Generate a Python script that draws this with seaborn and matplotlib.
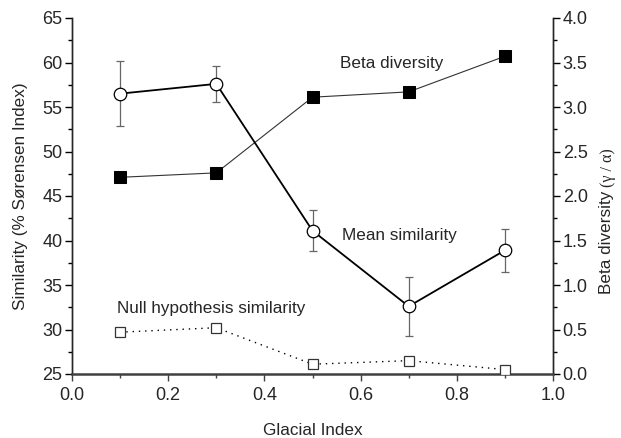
import matplotlib
matplotlib.use("Agg")
import matplotlib.pyplot as plt
import seaborn as sns
import pandas as pd
from matplotlib.ticker import MultipleLocator

glacial_index = [0.1, 0.3, 0.5, 0.7, 0.9]
mean_similarity = [56.5, 57.6, 41.1, 32.6, 38.9]
mean_similarity_err = [3.65, 2.0, 2.3, 3.35, 2.4]
null_similarity = [29.7, 30.2, 26.1, 26.5, 25.5]
beta_diversity = [2.21, 2.26, 3.11, 3.17, 3.57]

sns.set_style("ticks")
plt.rcParams['font.family'] = ['Liberation Sans', 'DejaVu Sans']

df = pd.DataFrame({"gi": glacial_index, "mean": mean_similarity,
                   "err": mean_similarity_err, "null": null_similarity,
                   "beta": beta_diversity})

fig = plt.figure(figsize=(6.21, 4.38), dpi=100)
ax = fig.add_axes([72/621, 1-374/438, (553-72)/621, (374-18)/438])
ax2 = ax.twinx()

# Beta diversity (right axis)
sns.lineplot(data=df, x="gi", y="beta", ax=ax2, color="#333333", lw=0.8,
             marker="s", markersize=8, markerfacecolor="black",
             markeredgecolor="black", zorder=2)

# Error bars
ax.errorbar(df["gi"], df["mean"], yerr=df["err"], fmt="none",
            ecolor="#666666", elinewidth=0.9, capsize=3, capthick=0.9, zorder=3)
# Mean similarity
sns.lineplot(data=df, x="gi", y="mean", ax=ax, color="black", lw=1.3,
             marker="o", markersize=9, markerfacecolor="white",
             markeredgecolor="black", markeredgewidth=0.9, zorder=4)
# Null hypothesis similarity
sns.lineplot(data=df, x="gi", y="null", ax=ax, color="black", lw=1.0,
             linestyle=(0, (1, 3.5)),
             marker="s", markersize=7, markerfacecolor="white",
             markeredgecolor="#333333", markeredgewidth=0.9, zorder=4)

ax.set_zorder(ax2.get_zorder() + 1)
ax.patch.set_visible(False)

ax.set_xlim(0, 1.0)
ax.set_ylim(25, 65)
ax2.set_ylim(0, 4.0)
ax.xaxis.set_major_locator(MultipleLocator(0.2))
ax.xaxis.set_minor_locator(MultipleLocator(0.1))
ax.yaxis.set_major_locator(MultipleLocator(5))
ax.yaxis.set_minor_locator(MultipleLocator(2.5))
ax2.yaxis.set_major_locator(MultipleLocator(0.5))
ax2.yaxis.set_minor_locator(MultipleLocator(0.25))
ax.xaxis.set_major_formatter(matplotlib.ticker.FormatStrFormatter("%.1f"))
ax2.yaxis.set_major_formatter(matplotlib.ticker.FormatStrFormatter("%.1f"))

for a in (ax, ax2):
    a.spines["top"].set_visible(False)
    a.tick_params(which="major", length=5, width=1, labelsize=13, color="black", pad=2)
    a.tick_params(which="minor", length=3, width=1, color="black")
    a.set_xlabel("")
    a.set_ylabel("")
for s in ("left", "right"):
    ax.spines[s].set_linewidth(1.0)
    ax2.spines[s].set_linewidth(1.0)
ax.spines["bottom"].set_linewidth(1.8)
ax.spines["bottom"].set_color("#404040")
ax2.spines["bottom"].set_visible(False)
ax.tick_params(axis="x", which="both", color="#404040", pad=4)

ax.set_xlabel("Glacial Index", fontsize=12.3, labelpad=14)
ax.set_ylabel("Similarity (% Sørensen Index)", fontsize=12.3, labelpad=10)

ax.text(0.557, 59.9, "Beta diversity", fontsize=12.3, ha="left", va="center")
ax.text(0.561, 40.6, "Mean similarity", fontsize=12.3, ha="left", va="center")
ax.text(0.094, 32.4, "Null hypothesis similarity", fontsize=12.3, ha="left", va="center")

t1 = fig.text(607/621, 1-294/438, "Beta diversity", rotation=90, fontsize=12.3,
              ha="center", va="bottom")
fig.canvas.draw()
bb = t1.get_window_extent()
fig.text(bb.x0 + bb.width/2 + 1, bb.y1 + 4, "(γ / α)", rotation=90,
         fontsize=11.5, family=["Liberation Serif", "DejaVu Serif"],
         ha="center", va="bottom", transform=None)

fig.savefig("out.png", dpi=100)
